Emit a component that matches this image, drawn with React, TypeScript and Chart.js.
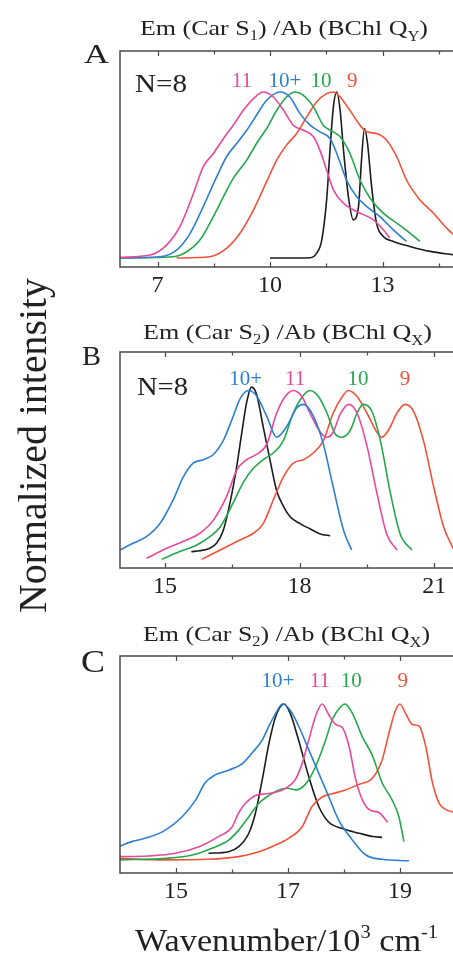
import React, { useEffect, useRef } from "react";
import { Chart, registerables } from "chart.js";
Chart.register(...registerables);

const SERIF = "'Liberation Serif', 'Times New Roman', Times, serif";
const C11 = "#e9489b";
const C10P = "#2c7fd2";
const C10 = "#23a94b";
const C9 = "#f2523a";
const CB = "#1c1c1c";
const INK = "#222222";

// ---------- Panel A : Em (Car S1) / Ab (BChl Qy) ----------
const aTicks = [7, 8.5, 10, 11.5, 13, 14.5];
const aTickLabels = [7, 10, 13];
const a11X = [6.0, 6.8, 7.24, 7.6, 7.96, 8.22, 8.49, 8.76, 9.02, 9.29, 9.56, 9.82, 10.09, 10.36, 10.62, 10.89, 11.16, 11.33, 11.51, 11.69, 11.96, 12.31, 12.76, 13.02, 13.2];
const a11Y = [0.004, 0.018, 0.078, 0.19, 0.39, 0.55, 0.63, 0.72, 0.8, 0.89, 0.96, 1.0, 0.97, 0.89, 0.8, 0.77, 0.73, 0.65, 0.53, 0.41, 0.33, 0.28, 0.23, 0.17, 0.12];
const a10pX = [6.0, 7.07, 7.51, 7.87, 8.22, 8.58, 8.84, 9.11, 9.38, 9.64, 9.91, 10.27, 10.53, 10.8, 11.07, 11.33, 11.6, 11.78, 12.04, 12.31, 12.58, 12.93, 13.29, 13.64];
const a10pY = [0, 0.008, 0.048, 0.149, 0.31, 0.49, 0.61, 0.69, 0.77, 0.86, 0.95, 1.0, 0.97, 0.87, 0.8, 0.76, 0.72, 0.63, 0.47, 0.37, 0.31, 0.25, 0.17, 0.1];
const a10X = [6.0, 7.42, 7.78, 8.13, 8.49, 8.76, 9.02, 9.38, 9.64, 9.91, 10.18, 10.44, 10.67, 10.89, 11.16, 11.42, 11.69, 11.87, 12.13, 12.4, 12.67, 13.02, 13.38, 13.73, 14.0];
const a10Y = [0, 0.008, 0.038, 0.108, 0.25, 0.37, 0.48, 0.59, 0.69, 0.78, 0.89, 0.97, 1.0, 0.98, 0.91, 0.8, 0.76, 0.73, 0.63, 0.47, 0.36, 0.27, 0.21, 0.15, 0.1];
const a9X = [7.51, 8.4, 8.84, 9.2, 9.56, 9.91, 10.18, 10.44, 10.71, 10.98, 11.24, 11.51, 11.69, 11.87, 12.13, 12.4, 12.58, 12.84, 13.11, 13.38, 13.64, 14.0, 14.36, 14.71, 15.0];
const a9Y = [0, 0.008, 0.058, 0.149, 0.29, 0.46, 0.59, 0.68, 0.75, 0.85, 0.94, 0.99, 1.0, 0.97, 0.89, 0.8, 0.76, 0.75, 0.71, 0.61, 0.47, 0.35, 0.27, 0.18, 0.12];
const aBX = [10.0, 11.07, 11.24, 11.38, 11.51, 11.6, 11.69, 11.78, 11.87, 11.96, 12.09, 12.22, 12.36, 12.44, 12.52, 12.6, 12.71, 12.84, 13.02, 13.29, 13.73, 14.27, 14.88];
const aBY = [0, 0.002, 0.028, 0.108, 0.35, 0.65, 0.91, 1.0, 0.89, 0.65, 0.37, 0.23, 0.31, 0.59, 0.78, 0.69, 0.43, 0.21, 0.13, 0.1, 0.07, 0.04, 0.02];
const aLabelX = [9.25, 10.4, 11.36, 12.19];

// ---------- Panel B : Em (Car S2) / Ab (BChl Qx) ----------
const bTicks = [15, 16.5, 18, 19.5, 21];
const bTickLabels = [15, 18, 21];
const b10pX = [14.0, 14.29, 14.59, 14.89, 15.19, 15.41, 15.63, 15.86, 16.08, 16.3, 16.52, 16.67, 16.86, 17.04, 17.27, 17.49, 17.71, 17.94, 18.09, 18.31, 18.53, 18.75, 18.98, 19.16];
const b10pY = [0.077, 0.116, 0.154, 0.23, 0.37, 0.5, 0.58, 0.6, 0.63, 0.71, 0.85, 0.95, 1.0, 0.97, 0.85, 0.73, 0.79, 0.9, 0.92, 0.85, 0.69, 0.44, 0.19, 0.077];
const b11X = [14.59, 15.04, 15.48, 15.78, 16.08, 16.38, 16.6, 16.82, 17.04, 17.27, 17.49, 17.68, 17.86, 18.05, 18.23, 18.46, 18.61, 18.75, 18.9, 19.09, 19.28, 19.5, 19.72, 19.94, 20.17];
const b11Y = [0.029, 0.087, 0.135, 0.174, 0.25, 0.39, 0.54, 0.6, 0.63, 0.69, 0.87, 0.965, 1.0, 0.965, 0.87, 0.76, 0.73, 0.76, 0.86, 0.92, 0.87, 0.68, 0.41, 0.17, 0.077];
const b10X = [14.93, 15.33, 15.71, 16.0, 16.23, 16.52, 16.75, 16.97, 17.19, 17.42, 17.64, 17.86, 18.05, 18.23, 18.42, 18.61, 18.79, 18.94, 19.13, 19.28, 19.42, 19.61, 19.8, 20.02, 20.24, 20.5];
const b10Y = [0.023, 0.068, 0.106, 0.154, 0.21, 0.35, 0.47, 0.55, 0.6, 0.64, 0.71, 0.87, 0.96, 1.0, 0.965, 0.87, 0.75, 0.73, 0.77, 0.87, 0.92, 0.88, 0.71, 0.41, 0.17, 0.077];
const b9X = [15.82, 16.23, 16.67, 16.97, 17.19, 17.42, 17.64, 17.86, 18.09, 18.31, 18.53, 18.75, 18.94, 19.09, 19.28, 19.5, 19.72, 19.83, 19.98, 20.17, 20.35, 20.54, 20.76, 20.99, 21.21, 21.42];
const b9Y = [0.023, 0.077, 0.135, 0.174, 0.23, 0.37, 0.5, 0.58, 0.6, 0.64, 0.71, 0.87, 0.96, 1.0, 0.965, 0.87, 0.76, 0.73, 0.77, 0.87, 0.92, 0.88, 0.71, 0.44, 0.21, 0.087];
const bBX = [15.59, 15.78, 16.0, 16.15, 16.3, 16.45, 16.6, 16.71, 16.82, 16.93, 17.04, 17.19, 17.34, 17.49, 17.64, 17.79, 18.01, 18.23, 18.46, 18.68];
const bBY = [0.068, 0.073, 0.087, 0.116, 0.19, 0.35, 0.56, 0.75, 0.93, 1.02, 0.98, 0.79, 0.6, 0.42, 0.33, 0.27, 0.23, 0.2, 0.17, 0.16];
const bLabelX = [16.8, 17.9, 19.3, 20.35];

// ---------- Panel C : Em (Car S2) / Ab (BChl Qx) ----------
const cTicks = [15, 16, 17, 18, 19];
const cTickLabels = [15, 17, 19];
const c10pX = [13.97, 14.21, 14.51, 14.81, 15.11, 15.35, 15.52, 15.7, 15.94, 16.18, 16.36, 16.54, 16.66, 16.78, 16.9, 17.04, 17.19, 17.37, 17.55, 17.73, 17.91, 18.15, 18.39, 18.68, 19.16];
const c10pY = [0.095, 0.127, 0.154, 0.2, 0.285, 0.39, 0.5, 0.55, 0.58, 0.62, 0.69, 0.77, 0.86, 0.94, 1.0, 0.96, 0.86, 0.71, 0.56, 0.41, 0.26, 0.137, 0.042, 0.015, 0.006];
const c11X = [13.97, 14.51, 14.99, 15.41, 15.76, 16.0, 16.12, 16.24, 16.42, 16.6, 16.78, 16.96, 17.13, 17.25, 17.37, 17.49, 17.61, 17.73, 17.85, 17.97, 18.09, 18.21, 18.33, 18.45, 18.63, 18.78];
const c11Y = [0.032, 0.036, 0.053, 0.095, 0.159, 0.22, 0.31, 0.37, 0.42, 0.43, 0.44, 0.465, 0.52, 0.62, 0.77, 0.92, 1.0, 0.93, 0.87, 0.85, 0.73, 0.52, 0.39, 0.33, 0.31, 0.25];
const c10X = [13.97, 14.81, 15.29, 15.64, 15.94, 16.12, 16.3, 16.48, 16.66, 16.84, 16.99, 17.13, 17.31, 17.49, 17.67, 17.79, 17.91, 18.02, 18.15, 18.33, 18.51, 18.68, 18.86, 18.98, 19.07];
const c10Y = [0.011, 0.021, 0.042, 0.085, 0.137, 0.2, 0.285, 0.37, 0.42, 0.455, 0.465, 0.455, 0.49, 0.6, 0.77, 0.9, 0.97, 1.0, 0.94, 0.79, 0.67, 0.5, 0.39, 0.285, 0.127];
const c9X = [13.97, 14.81, 15.58, 16.12, 16.48, 16.78, 17.01, 17.25, 17.43, 17.61, 17.79, 18.03, 18.27, 18.51, 18.68, 18.8, 18.92, 19.0, 19.1, 19.22, 19.34, 19.46, 19.58, 19.7, 19.82, 20.0];
const c9Y = [0.021, 0.011, 0.015, 0.032, 0.063, 0.106, 0.148, 0.22, 0.35, 0.41, 0.43, 0.455, 0.49, 0.53, 0.645, 0.81, 0.96, 1.0, 0.94, 0.87, 0.86, 0.73, 0.5, 0.37, 0.33, 0.31];
const cBX = [15.58, 15.94, 16.12, 16.3, 16.42, 16.54, 16.66, 16.78, 16.93, 17.04, 17.19, 17.37, 17.55, 17.73, 17.97, 18.27, 18.51, 18.68];
const cBY = [0.053, 0.063, 0.095, 0.18, 0.31, 0.52, 0.75, 0.92, 1.0, 0.94, 0.77, 0.54, 0.35, 0.25, 0.21, 0.18, 0.159, 0.154];
const cLabelX = [16.82, 17.57, 18.13, 19.05];

const seriesLabels = ["10+", "11", "10", "9"];

type Seg = { t: string; size: number; dy?: number };

function drawRich(ctx: CanvasRenderingContext2D, segs: Seg[], x0: number, x1: number, baseline: number, color = INK) {
  ctx.save();
  let total = 0;
  const widths = segs.map((s) => {
    ctx.font = `${s.size}px ${SERIF}`;
    const w = ctx.measureText(s.t).width;
    total += w;
    return w;
  });
  const sx = (x1 - x0) / total;
  ctx.translate(x0, baseline);
  ctx.scale(sx, 1);
  ctx.fillStyle = color;
  ctx.textAlign = "left";
  ctx.textBaseline = "alphabetic";
  let cx = 0;
  segs.forEach((s, i) => {
    ctx.font = `${s.size}px ${SERIF}`;
    ctx.fillText(s.t, cx, s.dy || 0);
    cx += widths[i];
  });
  ctx.restore();
}

function drawCentered(ctx: CanvasRenderingContext2D, t: string, x: number, y: number, size: number, color: string) {
  ctx.save();
  ctx.font = `${size}px ${SERIF}`;
  ctx.fillStyle = color;
  ctx.textAlign = "center";
  ctx.textBaseline = "alphabetic";
  ctx.fillText(t, x, y);
  ctx.restore();
}

type Series = { x: number[]; y: number[]; color: string };
type Panel = {
  top: number;
  height: number;
  xMin: number;
  xMax: number;
  yMin: number;
  yMax: number;
  ticks: number[];
  tickLabels: number[];
  padding: { left: number; right: number; top: number; bottom: number };
  series: Series[];
  extra: (ctx: CanvasRenderingContext2D, chart: any) => void;
};

const titleSegs = (sub1: string, sub2: string): Seg[] => [
  { t: "Em (Car S", size: 22 },
  { t: sub1, size: 14, dy: 5 },
  { t: ") /Ab (BChl Q", size: 22 },
  { t: sub2, size: 14, dy: 6 },
  { t: ")", size: 22 },
];

function seriesTexts(ctx: CanvasRenderingContext2D, chart: any, xs: number[], baseline: number, order: string[]) {
  const sx = chart.scales.x;
  const colorOf: Record<string, string> = { "10+": C10P, "11": C11, "10": C10, "9": C9 };
  order.forEach((lab, i) => {
    drawCentered(ctx, lab, sx.getPixelForValue(xs[i]), baseline, 21, colorOf[lab]);
  });
}

const panels: Panel[] = [
  {
    top: 0,
    height: 300,
    xMin: 6,
    xMax: 15,
    yMin: -0.054,
    yMax: 1.247,
    ticks: aTicks,
    tickLabels: aTickLabels,
    padding: { left: 120, right: 12.5, top: 51, bottom: 3 },
    series: [
      { x: a11X, y: a11Y, color: C11 },
      { x: a10pX, y: a10pY, color: C10P },
      { x: a10X, y: a10Y, color: C10 },
      { x: a9X, y: a9Y, color: C9 },
      { x: aBX, y: aBY, color: CB },
    ],
    extra: (ctx, chart) => {
      drawRich(ctx, titleSegs("1", "Y"), 140, 428, 35);
      drawRich(ctx, [{ t: "A", size: 28 }], 84, 109, 63);
      drawRich(ctx, [{ t: "N=8", size: 25 }], 135, 187, 92);
      seriesTexts(ctx, chart, aLabelX, 87, ["11", "10+", "10", "9"]);
    },
  },
  {
    top: 250,
    height: 380,
    xMin: 14,
    xMax: 21.5,
    yMin: -0.027,
    yMax: 1.223,
    ticks: bTicks,
    tickLabels: bTickLabels,
    padding: { left: 120, right: 13.3, top: 102, bottom: 32 },
    series: [
      { x: b10pX, y: b10pY, color: C10P },
      { x: b11X, y: b11Y, color: C11 },
      { x: b10X, y: b10Y, color: C10 },
      { x: b9X, y: b9Y, color: C9 },
      { x: bBX, y: bBY, color: CB },
    ],
    extra: (ctx, chart) => {
      drawRich(ctx, titleSegs("2", "X"), 143, 432, 89);
      drawRich(ctx, [{ t: "B", size: 28 }], 82, 101, 115);
      drawRich(ctx, [{ t: "N=8", size: 25 }], 137, 188, 145);
      seriesTexts(ctx, chart, bLabelX, 135, ["10+", "11", "10", "9"]);
      // shared y-axis title
      ctx.save();
      ctx.translate(46, 363);
      ctx.rotate(-Math.PI / 2);
      drawRich(ctx, [{ t: "Normalized intensity", size: 40 }], 0, 335, 0);
      ctx.restore();
    },
  },
  {
    top: 600,
    height: 354,
    xMin: 14,
    xMax: 20,
    yMin: -0.072,
    yMax: 1.304,
    ticks: cTicks,
    tickLabels: cTickLabels,
    padding: { left: 120, right: 14, top: 56, bottom: 51 },
    series: [
      { x: c10pX, y: c10pY, color: C10P },
      { x: c11X, y: c11Y, color: C11 },
      { x: c10X, y: c10Y, color: C10 },
      { x: c9X, y: c9Y, color: C9 },
      { x: cBX, y: cBY, color: CB },
    ],
    extra: (ctx, chart) => {
      drawRich(ctx, titleSegs("2", "X"), 143, 430, 41);
      drawRich(ctx, [{ t: "C", size: 31 }], 81, 105, 72);
      seriesTexts(ctx, chart, cLabelX, 87, ["10+", "11", "10", "9"]);
      drawRich(
        ctx,
        [
          { t: "Wavenumber/10", size: 32 },
          { t: "3", size: 19, dy: -13 },
          { t: " cm", size: 32 },
          { t: "-1", size: 19, dy: -13 },
        ],
        135,
        438,
        351
      );
    },
  },
];

function makeChart(canvas: HTMLCanvasElement, p: Panel) {
  const overlay = {
    id: "overlay",
    afterDraw(chart: any) {
      const ctx: CanvasRenderingContext2D = chart.ctx;
      const area = chart.chartArea;
      const sx = chart.scales.x;
      ctx.save();
      ctx.strokeStyle = "#4a4a4a";
      ctx.lineWidth = 1.5;
      ctx.strokeRect(area.left, area.top, area.right - area.left, area.bottom - area.top);
      ctx.lineWidth = 1.2;
      p.ticks.forEach((v) => {
        const px = Math.round(sx.getPixelForValue(v)) + 0.5;
        const len = p.tickLabels.includes(v) ? 5 : 3.5;
        ctx.beginPath();
        ctx.moveTo(px, area.bottom);
        ctx.lineTo(px, area.bottom - len);
        ctx.moveTo(px, area.top);
        ctx.lineTo(px, area.top + len);
        ctx.stroke();
      });
      ctx.restore();
      p.extra(ctx, chart);
    },
  };
  return new Chart(canvas, {
    type: "line",
    data: {
      datasets: p.series.map((s) => ({
        data: s.x.map((x, i) => ({ x, y: s.y[i] })),
        borderColor: s.color,
        borderWidth: 1.6,
        pointRadius: 0,
        fill: false,
        cubicInterpolationMode: "monotone" as const,
      })),
    },
    options: {
      animation: false,
      responsive: false,
      devicePixelRatio: 1,
      events: [],
      layout: { padding: p.padding },
      plugins: { legend: { display: false }, tooltip: { enabled: false }, title: { display: false } },
      scales: {
        x: {
          type: "linear",
          min: p.xMin,
          max: p.xMax,
          afterBuildTicks: (axis: any) => {
            axis.ticks = p.ticks.map((v) => ({ value: v }));
          },
          afterFit: (scale: any) => {
            scale.height = 30;
          },
          grid: { display: false, drawTicks: false },
          border: { display: false },
          ticks: {
            autoSkip: false,
            maxRotation: 0,
            padding: 4,
            color: INK,
            font: { family: SERIF, size: 24 },
            callback: (v: any) => (p.tickLabels.includes(Number(v)) ? String(v) : ""),
          },
        },
        y: { display: false, min: p.yMin, max: p.yMax },
      },
    },
    plugins: [overlay],
  } as any);
}

function PanelCanvas({ p }: { p: Panel }) {
  const ref = useRef<HTMLCanvasElement | null>(null);
  useEffect(() => {
    if (!ref.current) return;
    const chart = makeChart(ref.current, p);
    return () => chart.destroy();
  }, [p]);
  return (
    <canvas
      ref={ref}
      width={470}
      height={p.height}
      style={{ position: "absolute", left: 0, top: p.top, width: 470, height: p.height }}
    />
  );
}

export default function App() {
  return (
    <div
      style={{
        position: "absolute",
        left: 0,
        top: 0,
        width: 453,
        height: 954,
        overflow: "hidden",
        background: "#ffffff",
      }}
    >
      {panels.map((p, i) => (
        <PanelCanvas key={i} p={p} />
      ))}
    </div>
  );
}
